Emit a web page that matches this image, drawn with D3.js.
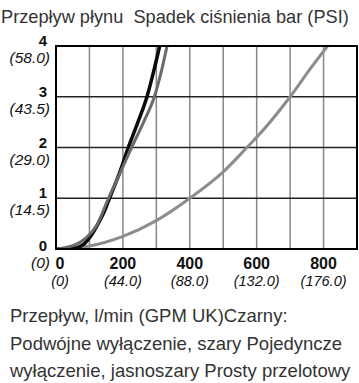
<!DOCTYPE html>
<html>
<head>
<meta charset="utf-8">
<script src="https://cdn.jsdelivr.net/npm/d3@7"></script>
<style>
  body { margin: 0; background: #fff; }
  text { font-family: "Liberation Sans", Arial, sans-serif; }
</style>
</head>
<body>
<script>
// flow in l/min, drop in bar
const gridFlows = [0, 100, 200, 300, 400, 500, 600, 700, 800, 900]
const gridBars = [0, 1, 2, 3, 4]
const xTicks = [0, 200, 400, 600, 800]
const xTickGpm = ["(0)", "(44.0)", "(88.0)", "(132.0)", "(176.0)"]
const yTicks = [0, 1, 2, 3, 4]
const yTickPsi = ["(0)", "(14.5)", "(29.0)", "(43.5)", "(58.0)"]

const straightFlow = [0, 100, 200, 300, 400, 500, 571, 600, 700, 760, 812]
const straightBar = [0, 0.06, 0.25, 0.56, 1.0, 1.52, 2.0, 2.2, 3.0, 3.55, 4.0]

const doubleFlow = [0, 50, 80, 100, 130, 145, 160, 190, 216, 245, 272, 292, 310]
const doubleBar = [0, 0.01, 0.08, 0.22, 0.55, 0.75, 1.0, 1.5, 2.0, 2.5, 3.0, 3.5, 4.0]

const singleFlow = [0, 30, 60, 90, 120, 157, 192, 226, 262, 294, 315, 332]
const singleBar = [0, 0.03, 0.09, 0.22, 0.45, 1.0, 1.5, 2.0, 2.5, 3.0, 3.5, 4.0]

const titleText = "Przepływ płynu  Spadek ciśnienia bar (PSI)"
const footLines = [
  "Przepływ, l/min (GPM UK)Czarny:",
  "Podwójne wyłączenie, szary Pojedyncze",
  "wyłączenie, jasnoszary Prosty przelotowy"
]

const W = 359, H = 383
const svg = d3.select("body").append("svg").attr("width", W).attr("height", H)

const x = d3.scaleLinear().domain([0, 900]).range([56, 357])
const y = d3.scaleLinear().domain([0, 4]).range([249, 46])

svg.append("text")
  .attr("x", 1).attr("y", 22.5)
  .attr("font-size", 18.2).attr("fill", "#333")
  .style("white-space", "pre")
  .text(titleText)

// grid
svg.append("g").selectAll("line").data(gridFlows.slice(1, -1)).join("line")
  .attr("x1", d => x(d)).attr("x2", d => x(d))
  .attr("y1", y(0)).attr("y2", y(4))
  .attr("stroke", "#888").attr("stroke-width", 1.5)
svg.append("g").selectAll("line").data(gridBars.slice(1, -1)).join("line")
  .attr("x1", x(0)).attr("x2", x(900))
  .attr("y1", d => y(d)).attr("y2", d => y(d))
  .attr("stroke", "#222").attr("stroke-width", 1.5)

svg.append("defs").append("clipPath").attr("id", "plot")
  .append("rect").attr("x", x(0)).attr("y", y(4))
  .attr("width", x(900) - x(0)).attr("height", y(0) - y(4))

const line = d3.line().x(d => x(d[0])).y(d => y(d[1])).curve(d3.curveMonotoneX)
const series = [
  {flow: straightFlow, bar: straightBar, color: "#8c8c8c", w: 3},
  {flow: doubleFlow, bar: doubleBar, color: "#0a0a0a", w: 3.5},
  {flow: singleFlow, bar: singleBar, color: "#6a6a6a", w: 3}
]
svg.append("g").attr("clip-path", "url(#plot)")
  .selectAll("path").data(series).join("path")
  .attr("d", s => line(s.flow.map((f, i) => [f, s.bar[i]])))
  .attr("fill", "none")
  .attr("stroke", s => s.color)
  .attr("stroke-width", s => s.w)
  .attr("stroke-linecap", "round")

svg.append("rect")
  .attr("x", x(0)).attr("y", y(4))
  .attr("width", x(900) - x(0)).attr("height", y(0) - y(4))
  .attr("fill", "none").attr("stroke", "#000").attr("stroke-width", 2)

// y labels
const yl = svg.append("g").selectAll("g").data(yTicks).join("g")
yl.append("text")
  .attr("x", 47).attr("y", d => y(d) + (d === 0 ? 2 : 0))
  .attr("text-anchor", "end").attr("font-weight", "bold").attr("font-size", 15)
  .attr("fill", "#111")
  .text(d => d)
yl.append("text")
  .attr("x", 50).attr("y", d => y(d) + (d === 0 ? 19 : 17))
  .attr("text-anchor", "end").attr("font-style", "italic").attr("font-size", 15.5)
  .attr("fill", "#111")
  .text((d, i) => yTickPsi[i])

// x labels, the 0 one sits right of the corner
const xl = svg.append("g").selectAll("g").data(xTicks).join("g")
  .attr("transform", d => `translate(${d === 0 ? x(d) + 4 : x(d)},0)`)
xl.append("text")
  .attr("y", 269)
  .attr("text-anchor", "middle").attr("font-weight", "bold").attr("font-size", 16)
  .attr("fill", "#111")
  .text(d => d)
xl.append("text")
  .attr("y", 286)
  .attr("text-anchor", "middle").attr("font-style", "italic").attr("font-size", 14.5)
  .attr("fill", "#111")
  .text((d, i) => xTickGpm[i])

svg.append("g").selectAll("text").data(footLines).join("text")
  .attr("x", 10).attr("y", (d, i) => 322 + i * 27.5)
  .attr("font-size", 18.5).attr("fill", "#333")
  .text(d => d)
</script>
</body>
</html>
